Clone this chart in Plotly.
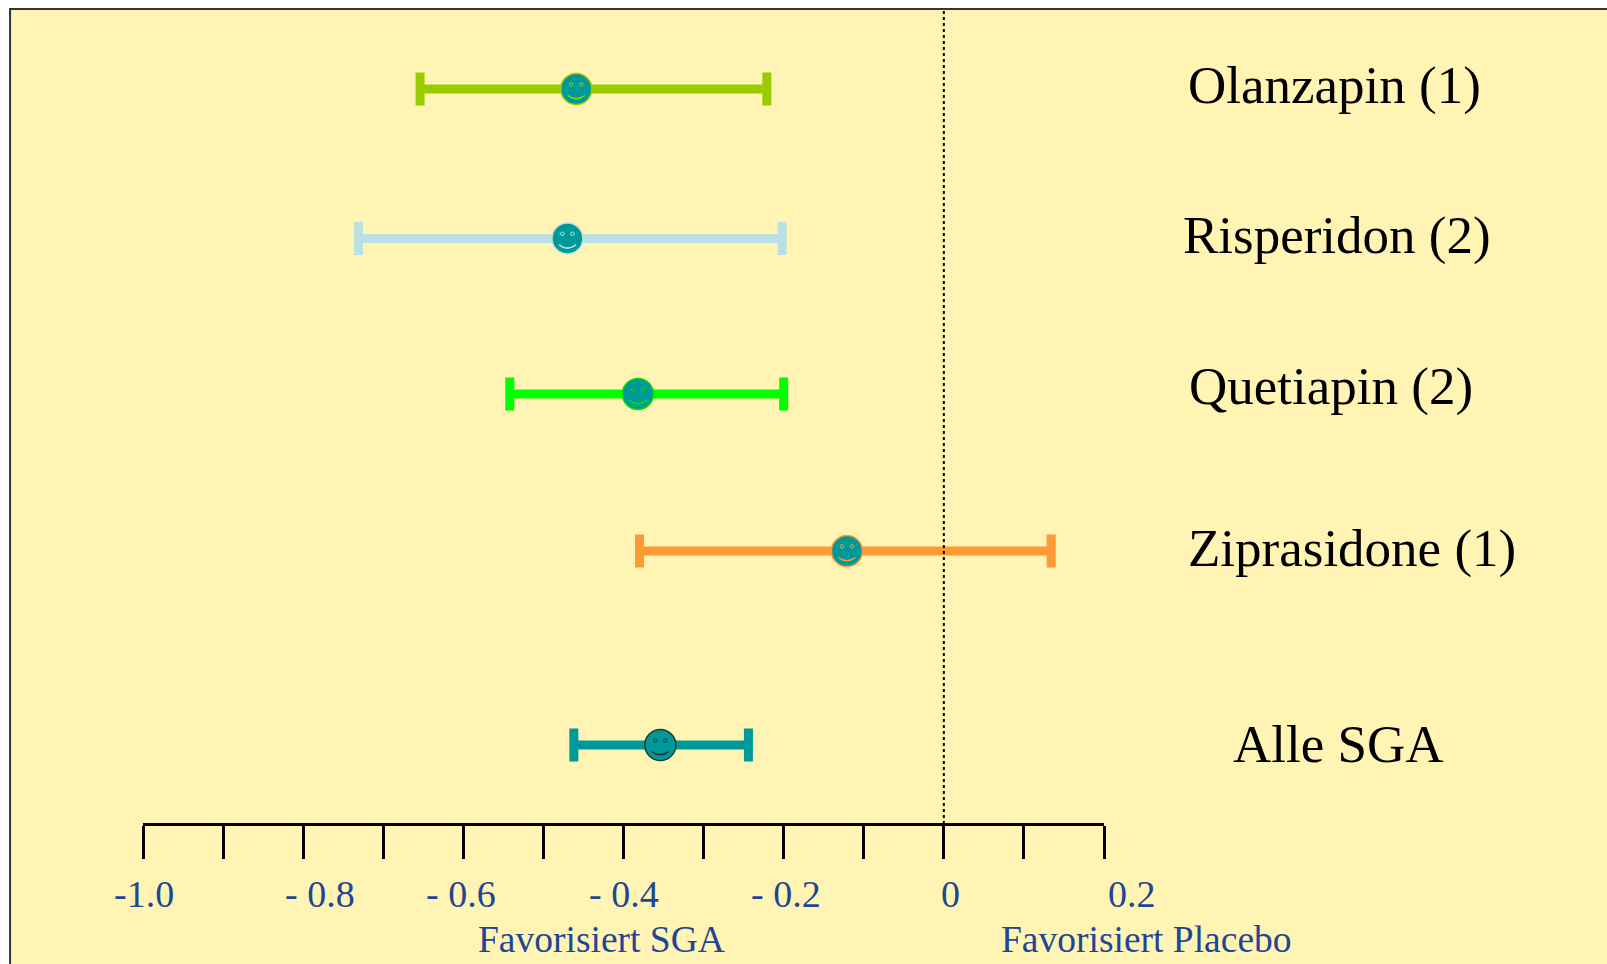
import plotly.graph_objects as go

# ---- data ----
categories = ["Olanzapin (1)", "Risperidon (2)", "Quetiapin (2)", "Ziprasidone (1)", "Alle SGA"]
estimate = [-0.459, -0.470, -0.382, -0.121, -0.354]
ci_low = [-0.654, -0.731, -0.542, -0.380, -0.462]
ci_high = [-0.221, -0.202, -0.200, 0.134, -0.244]
tick_values = [-1.0, -0.9, -0.8, -0.7, -0.6, -0.5, -0.4, -0.3, -0.2, -0.1, 0.0, 0.1, 0.2]
label_values = [-1.0, -0.8, -0.6, -0.4, -0.2, 0.0, 0.2]
label_texts = ["-1.0", "- 0.8", "- 0.6", "- 0.4", "- 0.2", "0", "0.2"]
side_labels = ["Favorisiert SGA", "Favorisiert Placebo"]

# ---- layout / style ----
W, H = 1607, 964
ml, mr, mt, mb = 143, 502.5, 9, 0
plot_w = W - ml - mr
plot_h = H - mt - mb
axis_px = 824
axis_pos = (H - axis_px) / plot_h
row_px = 154.0          # pixels per row unit
row_pos = [0, 0.97, 1.98, 3.0, 4.26]
cat_label_left_px = [1187, 1182, 1188, 1187, 1232]
cat_label_y_px = [85, 235, 386, 548, 744]
tick_label_xshift = [1, 16.5, -2, 0, 2.5, 6.5, 28]
tick_label_y_px = 894
side_label_x_px = [601.5, 1147]
side_label_y_px = 939

bar_colors = ["#99CC00", "#BBE0E3", "#00FF00", "#FF9933", "#009999"]
outline_colors = ["#99CC00", "#BBE0E3", "#00DD00", "#FF9933", "#1f3a3a"]
face_color = "#009999"
bg_color = "#FFF4B3"
label_blue = "#1F4694"
serif = "Liberation Serif, Times New Roman, serif"

fig = go.Figure()

for i, cat in enumerate(categories):
    fig.add_trace(go.Scatter(
        x=[estimate[i]], y=[row_pos[i]], mode="markers", name=cat,
        marker=dict(size=31, color=face_color,
                    line=dict(color=outline_colors[i], width=1.5)),
        error_x=dict(type="data", symmetric=False,
                     array=[ci_high[i] - estimate[i]],
                     arrayminus=[estimate[i] - ci_low[i]],
                     color=bar_colors[i], thickness=9, width=16.5),
        showlegend=False, hoverinfo="skip",
    ))

shapes = []
# yellow slide background with border
shapes.append(dict(type="rect", xref="paper", yref="paper",
                   x0=(10 - ml) / plot_w, x1=2.0, y0=-0.2, y1=1.0,
                   fillcolor=bg_color, line=dict(color="#333333", width=2),
                   layer="below"))
# dotted zero line
shapes.append(dict(type="line", xref="x", yref="paper", x0=0, x1=0,
                   y0=axis_pos, y1=1.0,
                   line=dict(color="black", width=2, dash="dot")))
# smiley faces
for i in range(len(categories)):
    oc = outline_colors[i]
    for ex in (-5, 5):
        shapes.append(dict(type="circle", xref="x", yref="y",
                           xsizemode="pixel", ysizemode="pixel",
                           xanchor=estimate[i], yanchor=row_pos[i],
                           x0=ex - 1.8, x1=ex + 1.8, y0=2.8, y1=6.4,
                           line=dict(color=oc, width=1)))
    shapes.append(dict(type="path", xref="x", yref="y",
                       xsizemode="pixel", ysizemode="pixel",
                       xanchor=estimate[i], yanchor=row_pos[i],
                       path="M -8.5,-6.5 Q 0,-13 8.5,-6.5",
                       line=dict(color=oc, width=1.5)))

annotations = []
for i, cat in enumerate(categories):
    annotations.append(dict(text=cat, xref="paper", yref="y",
                            x=(cat_label_left_px[i] - ml) / plot_w,
                            y=(cat_label_y_px[i] - 89) / row_px,
                            xanchor="left", yanchor="middle", showarrow=False,
                            font=dict(family=serif, size=53, color="black")))
for idx, (lbl, xv) in enumerate(zip(label_texts, label_values)):
    annotations.append(dict(text=lbl, xref="x", yref="paper",
                            x=xv, y=(H - tick_label_y_px) / plot_h,
                            xshift=tick_label_xshift[idx],
                            xanchor="center", yanchor="middle", showarrow=False,
                            font=dict(family=serif, size=38, color=label_blue)))
for lbl, xp in zip(side_labels, side_label_x_px):
    annotations.append(dict(text=lbl, xref="paper", yref="paper",
                            x=(xp - ml) / plot_w, y=(H - side_label_y_px) / plot_h,
                            xanchor="center", yanchor="middle", showarrow=False,
                            font=dict(family=serif, size=37.5, color=label_blue)))

y_top = (mt - 89) / row_px
y_bot = (H - 89) / row_px

fig.update_layout(
    width=W, height=H,
    margin=dict(l=ml, r=mr, t=mt, b=mb, pad=0),
    paper_bgcolor="white", plot_bgcolor=bg_color,
    shapes=shapes, annotations=annotations,
    xaxis=dict(range=[-1.0, 0.2], tickmode="array", tickvals=tick_values,
               ticktext=[""] * len(tick_values), ticks="outside", ticklen=33,
               tickwidth=3, tickcolor="black", showline=True, linewidth=3,
               linecolor="black", showgrid=False, zeroline=False,
               anchor="free", position=axis_pos),
    yaxis=dict(range=[y_bot, y_top], visible=False, showgrid=False, zeroline=False),
)

fig.write_html("out.html")
